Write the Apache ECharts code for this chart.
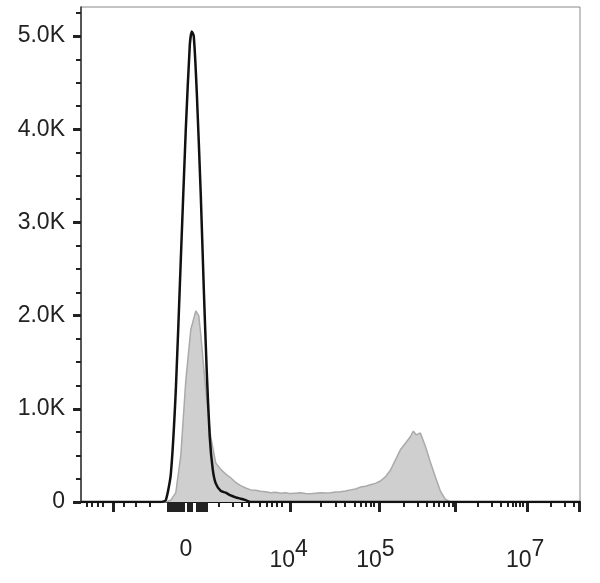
<!DOCTYPE html><html><head><meta charset="utf-8">
<script src="https://cdn.jsdelivr.net/npm/echarts@6/dist/echarts.min.js"></script>
<style>html,body{margin:0;background:#fff}#c{width:600px;height:583px}</style></head><body><div id="c"></div><script>
// x positions are on the display (biexponential) scale, 80..580
const grayX=[160,165,170,175,180,185,190,195,198,200,205,210,215,220,225,230,235,240,245,250,255,260,265,270,275,280,285,290,295,300,305,310,315,320,325,330,335,340,345,350,355,360,365,370,375,380,385,390,395,400,405,410,413,416,420,425,430,435,440,445,450,460];
const grayY=[0,0,20,100,500,1300,1850,2050,2000,1800,1200,700,420,350,300,260,210,175,150,130,125,115,110,100,105,95,100,90,95,100,92,88,95,100,96,100,108,110,118,130,140,160,170,185,200,225,270,340,450,560,630,700,760,720,740,600,430,270,120,30,0,0];
const blackX=[80,160,165,170,175,180,185,189,191,193,196,200,203,206,209,212,215,220,225,230,235,240,245,250,580];
const blackY=[0,0,20,300,1200,2600,4000,4900,5050,5000,4400,3300,2300,1400,700,350,200,120,100,70,50,35,20,0,0];
const yTicks=[0,1000,2000,3000,4000,5000];
const yLabels=['0','1.0K','2.0K','3.0K','4.0K','5.0K'];
const xLabelPos=[185,288,375,525];
const xLabels=['0','10{s|4}','10{s|5}','10{s|7}'];
const majorTicks=[112,290,379,455,527,579];
const clusterTicks=[167,170,173,176,179,182,187,190,196,199,202,205];
const minorTicks=[86,91,97,102,123,135,149,218,232,241,248,259,266,271,276,281,320,335,344,354,360,365,370,373,403,417,426,433,438,443,448,452,478,492,501,508,513,516,520,523,551,565,574];
const gx=(ticks,len,w,show,labels)=>({type:'value',min:80,max:580,position:'bottom',
 axisLine:{show:show,onZero:false,lineStyle:{color:'#111',width:2}},splitLine:{show:false},
 axisTick:{show:true,customValues:ticks,length:len,inside:false,lineStyle:{color:'#222',width:w}},
 axisLabel:labels?{show:true,customValues:xLabelPos,margin:36,color:'#222',fontSize:23,fontFamily:'Liberation Sans',
   formatter:v=>xLabels[xLabelPos.indexOf(v)]||'',rich:{s:{fontSize:23,verticalAlign:'bottom',padding:[0,0,22,0],color:'#222',fontFamily:'Liberation Sans'}}}:{show:false}});
const chart=echarts.init(document.getElementById('c'));
chart.setOption({animation:false,
 grid:{left:81,right:20,top:7,bottom:81,show:true,borderColor:'#888',borderWidth:1},
 xAxis:[gx(majorTicks,10,3,true,true),gx(minorTicks,5,2,false,false),gx(clusterTicks,10,3,false,false)],
 yAxis:{type:'value',min:0,max:5312,interval:1000,
  axisLine:{show:true,lineStyle:{color:'#333',width:1.5}},splitLine:{show:false},
  axisTick:{show:true,customValues:yTicks,length:8,lineStyle:{color:'#222',width:3}},
  minorTick:{show:true,splitNumber:4,length:5,lineStyle:{color:'#222',width:2}},
  axisLabel:{customValues:yTicks,margin:16,color:'#222',fontSize:23,fontFamily:'Liberation Sans',formatter:v=>yLabels[yTicks.indexOf(v)]}},
 series:[
  {type:'line',xAxisIndex:0,data:grayX.map((x,i)=>[x,grayY[i]]),symbol:'none',smooth:false,
   lineStyle:{color:'#aaaaaa',width:1.5},areaStyle:{color:'#cfcfcf',opacity:1}},
  {type:'line',xAxisIndex:0,data:blackX.map((x,i)=>[x,blackY[i]]),symbol:'none',smooth:0.2,
   lineStyle:{color:'#111',width:2.5}}
 ]});
</script></body></html>
